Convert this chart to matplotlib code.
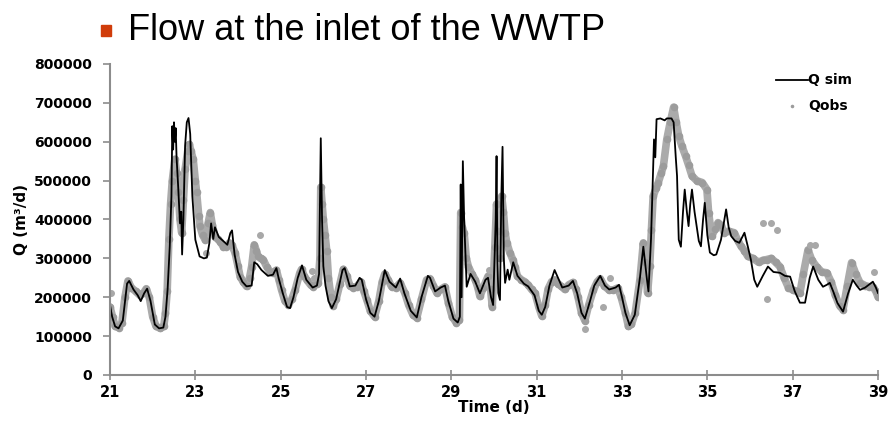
import matplotlib
matplotlib.use("Agg")
import matplotlib.pyplot as plt
from matplotlib.patches import Rectangle

# simulated flow (time in days, Q in m3/d)
sim_t = [21.00, 21.05, 21.12, 21.20, 21.30, 21.40, 21.45, 21.55, 21.65, 21.72, 21.80, 21.87, 21.95,
         22.05, 22.15, 22.25, 22.30, 22.35, 22.40, 22.44, 22.46, 22.48, 22.50, 22.52, 22.54, 22.56,
         22.60, 22.64, 22.67, 22.69, 22.72, 22.76, 22.80, 22.84, 22.88, 22.93, 23.00, 23.10, 23.20,
         23.27, 23.33, 23.37, 23.42, 23.46, 23.55, 23.65, 23.75, 23.82, 23.86, 23.92, 24.00, 24.10,
         24.20, 24.32, 24.38, 24.45, 24.55, 24.70, 24.82, 24.90, 24.95, 25.05, 25.15, 25.22, 25.30,
         25.40, 25.50, 25.60, 25.75, 25.85, 25.90, 25.94, 25.97, 26.00, 26.05, 26.12, 26.20, 26.30,
         26.45, 26.50, 26.62, 26.75, 26.85, 26.90, 27.00, 27.10, 27.20, 27.30, 27.44, 27.55, 27.70,
         27.80, 27.90, 28.05, 28.19, 28.30, 28.45, 28.50, 28.62, 28.75, 28.85, 28.93, 29.05, 29.15,
         29.20, 29.22, 29.24, 29.27, 29.30, 29.36, 29.45, 29.56, 29.67, 29.80, 29.86, 29.93, 29.98,
         30.04, 30.06, 30.08, 30.10, 30.14, 30.17, 30.20, 30.23, 30.26, 30.32, 30.36, 30.45, 30.55,
         30.70, 30.80, 30.95, 31.05, 31.12, 31.20, 31.30, 31.42, 31.50, 31.60, 31.75, 31.85, 31.95,
         32.05, 32.13, 32.25, 32.35, 32.49, 32.60, 32.70, 32.85, 32.93, 33.00, 33.08, 33.18, 33.30,
         33.42, 33.50, 33.58, 33.62, 33.68, 33.72, 33.75, 33.78, 33.81, 33.90, 34.00, 34.05, 34.16,
         34.21, 34.26, 34.29, 34.33, 34.38, 34.43, 34.47, 34.52, 34.56, 34.60, 34.64, 34.70, 34.75,
         34.80, 34.85, 34.90, 34.94, 35.00, 35.06, 35.15, 35.21, 35.32, 35.44, 35.50, 35.56, 35.65,
         35.75, 35.87, 35.95, 36.02, 36.10, 36.17, 36.30, 36.42, 36.55, 36.70, 36.82, 36.94, 37.05,
         37.17, 37.29, 37.40, 37.48, 37.60, 37.71, 37.80, 37.87, 37.95, 38.05, 38.18, 38.30, 38.41,
         38.50, 38.58, 38.70, 38.88, 38.95, 39.00]
sim_q = [180, 150, 125, 120, 140, 235, 242, 220, 205, 190, 210, 222, 190,
         130, 120, 122, 150, 220, 330, 460, 640, 580, 650, 600, 635, 560,
         480, 390, 420, 310, 400, 590, 650, 661, 620, 460, 348, 305, 300,
         302, 340, 390, 350, 380, 355, 345, 335, 365, 372, 310, 265, 240,
         228, 230, 290, 285, 270, 255, 258, 275, 250, 210, 175, 172, 200,
         250, 282, 245, 225, 230, 260, 609, 400, 280, 230, 190, 172, 195,
         270, 275, 228, 230, 250, 245, 195, 160, 150, 190, 270, 240, 225,
         248, 210, 165, 148, 200, 255, 250, 215, 225, 230, 190, 145, 135,
         150, 490, 200, 550, 400, 227, 260, 240, 210, 245, 250, 200, 180,
         400, 563, 300, 211, 193, 450, 587, 300, 237, 271, 245, 290, 255,
         235, 228, 205, 165, 155, 175, 230, 270, 250, 225, 230, 242, 210,
         160, 145, 190, 230, 255, 230, 220, 225, 232, 200, 160, 128, 155,
         250, 330, 250, 215, 350, 500, 606, 560, 658, 660, 655, 660, 660,
         650, 560, 512, 348, 330, 420, 477, 420, 383, 440, 477, 420, 383,
         345, 331, 400, 443, 360, 315, 308, 310, 348, 426, 380, 357, 345,
         340, 366, 330, 297, 245, 227, 255, 279, 265, 263, 255, 253, 215,
         186, 186, 250, 279, 245, 227, 232, 237, 215, 185, 163, 210, 245,
         230, 219, 225, 240, 225, 211]

# observed flow
obs_t = [21.00, 21.06, 21.12, 21.20, 21.28, 21.35, 21.42, 21.50, 21.60, 21.70, 21.78, 21.85, 21.92,
         22.00, 22.08, 22.18, 22.26, 22.30, 22.34, 22.38, 22.42, 22.46, 22.52, 22.56, 22.60, 22.64,
         22.68, 22.72, 22.76, 22.82, 22.86, 22.90, 22.95, 23.00, 23.03, 23.08, 23.11, 23.17, 23.23,
         23.30, 23.35, 23.40, 23.46, 23.52, 23.58, 23.66, 23.73, 23.80, 23.85, 23.93, 24.00, 24.05,
         24.12, 24.20, 24.27, 24.32, 24.38, 24.43, 24.47, 24.53, 24.59, 24.67, 24.75, 24.82, 24.90,
         24.96, 25.02, 25.10, 25.18, 25.26, 25.34, 25.45, 25.49, 25.55, 25.61, 25.70, 25.76, 25.84,
         25.88, 25.92, 25.94, 25.97, 26.00, 26.04, 26.08, 26.12, 26.18, 26.23, 26.30, 26.39, 26.47,
         26.55, 26.62, 26.70, 26.78, 26.88, 26.95, 27.02, 27.10, 27.20, 27.30, 27.38, 27.44, 27.52,
         27.60, 27.70, 27.80, 27.91, 28.00, 28.10, 28.19, 28.30, 28.42, 28.50, 28.58, 28.66, 28.75,
         28.85, 28.93, 29.02, 29.12, 29.19, 29.22, 29.25, 29.30, 29.35, 29.40, 29.48, 29.56, 29.62,
         29.67, 29.75, 29.86, 29.92, 29.96, 30.02, 30.06, 30.10, 30.14, 30.18, 30.22, 30.26, 30.30,
         30.37, 30.44, 30.49, 30.55, 30.64, 30.72, 30.80, 30.88, 30.96, 31.05, 31.12, 31.20, 31.27,
         31.35, 31.42, 31.50, 31.58, 31.66, 31.75, 31.85, 31.92, 31.97, 32.05, 32.13, 32.22, 32.33,
         32.42, 32.49, 32.58, 32.69, 32.80, 32.90, 32.98, 33.08, 33.15, 33.22, 33.31, 33.42, 33.50,
         33.55, 33.60, 33.65, 33.69, 33.73, 33.80, 33.85, 33.92, 33.97, 34.05, 34.13, 34.21, 34.27,
         34.33, 34.40, 34.49, 34.56, 34.64, 34.75, 34.88, 34.99, 35.03, 35.10, 35.18, 35.25, 35.32,
         35.40, 35.50, 35.63, 35.72, 35.79, 35.87, 35.95, 36.07, 36.20, 36.30, 36.39, 36.50, 36.60,
         36.70, 36.80, 36.90, 37.00, 37.10, 37.17, 37.25, 37.36, 37.45, 37.56, 37.68, 37.80, 37.90,
         38.00, 38.10, 38.18, 38.28, 38.38, 38.48, 38.58, 38.70, 38.80, 38.88, 38.95, 39.00]
obs_q = [175, 150, 125, 122, 135, 200, 242, 225, 215, 205, 210, 222, 200,
         150, 125, 120, 125, 160, 215, 350, 440, 500, 555, 520, 470, 400,
         366, 450, 529, 575, 593, 575, 555, 500, 470, 410, 382, 360, 348,
         390, 418, 385, 356, 350, 343, 330, 330, 340, 335, 315, 280, 253,
         240, 228, 250, 279, 335, 320, 305, 300, 297, 279, 265, 263, 270,
         245, 219, 190, 181, 195, 219, 263, 272, 255, 245, 232, 227, 235,
         237, 300, 483, 440, 400, 360, 320, 250, 200, 178, 195, 235, 272,
         255, 230, 225, 227, 240, 215, 193, 165, 150, 190, 240, 260, 245,
         227, 225, 237, 211, 180, 155, 147, 195, 245, 248, 230, 211, 220,
         227, 186, 150, 134, 142, 418, 380, 366, 300, 279, 260, 245, 225,
         202, 225, 254, 220, 176, 330, 440, 370, 300, 460, 420, 366, 340,
         315, 297, 279, 254, 245, 240, 232, 220, 211, 175, 152, 180, 222,
         240, 245, 235, 228, 220, 232, 238, 220, 200, 160, 140, 180, 219,
         240, 248, 230, 219, 219, 224, 200, 160, 125, 130, 160, 245, 340,
         290, 211, 280, 374, 460, 480, 495, 520, 537, 606, 650, 689, 650,
         615, 590, 563, 540, 512, 500, 495, 477, 418, 357, 375, 392, 385,
         366, 370, 366, 345, 331, 320, 305, 300, 290, 295, 297, 300, 290,
         279, 250, 225, 219, 215, 211, 260, 322, 295, 279, 265, 263, 240,
         205, 178, 168, 230, 289, 260, 237, 230, 227, 227, 215, 201]

# scattered observed points off the main band
out_t = [21.02, 23.25, 24.52, 25.73, 25.77, 29.88, 32.13, 32.56, 32.72, 36.30, 36.39, 36.50, 36.63,
         37.40, 37.52, 38.90]
out_q = [210, 315, 361, 267, 250, 269, 119, 176, 250, 392, 196, 392, 374,
         335, 335, 266]

title_txt = "Flow at the inlet of the WWTP"
xticks = list(range(21, 40, 2))
yticks = list(range(0, 800001, 100000))

grey = "#9c9c9c"
axis_grey = "#8c8c8c"

fig = plt.figure(figsize=(8.91, 4.37), dpi=100)
ax = fig.add_axes([110 / 891, 62 / 437, 768 / 891, 311 / 437])

ax.plot(obs_t, [q * 1000 for q in obs_q], color=grey, lw=5.5, alpha=0.85,
        solid_joinstyle="round", solid_capstyle="round", zorder=1)
ax.scatter(obs_t, [q * 1000 for q in obs_q], s=20, color=grey, zorder=1, label="Qobs")
ax.scatter(out_t, [q * 1000 for q in out_q], s=16, color="#a8a8a8", zorder=1)
ax.plot(sim_t, [q * 1000 for q in sim_q], color="black", lw=1.3, zorder=2, label="Q sim")

ax.set_xlim(21, 39)
ax.set_ylim(0, 800000)
ax.set_xticks(xticks)
ax.set_yticks(yticks)
ax.set_xticklabels([str(x) for x in xticks], fontsize=10.5, fontweight="bold", family="DejaVu Sans")
ax.set_yticklabels([str(y) for y in yticks], fontsize=10, fontweight="bold", family="DejaVu Sans")
ax.tick_params(axis="y", direction="out", length=5, color=axis_grey, width=1.2, pad=8)
ax.tick_params(axis="x", direction="inout", length=7, color=axis_grey, width=1.2, pad=4)
for s in ["top", "right"]:
    ax.spines[s].set_visible(False)
for s in ["left", "bottom"]:
    ax.spines[s].set_color(axis_grey)
    ax.spines[s].set_linewidth(1.5)

ax.set_xlabel("Time (d)", fontsize=11, fontweight="bold", family="DejaVu Sans", labelpad=0)
ax.set_ylabel("Q (m³/d)", fontsize=11, fontweight="bold", family="DejaVu Sans", labelpad=4)

h, l = ax.get_legend_handles_labels()
leg = ax.legend(h[::-1], l[::-1], loc="upper right", bbox_to_anchor=(0.983, 1.01), frameon=False,
                prop={"family": "DejaVu Sans", "weight": "bold", "size": 10},
                handlelength=2.3, handletextpad=0.05, labelspacing=0.8, markerscale=0.35)

# bullet + title
fig.patches.append(Rectangle((101 / 891, 1 - 36 / 437), 10 / 891, 11 / 437,
                             transform=fig.transFigure, color="#d03c0a"))
fig.text(128 / 891, 1 - 40 / 437, title_txt, fontsize=26, family="Liberation Sans",
         ha="left", va="baseline")

fig.savefig("out.png", dpi=100)
